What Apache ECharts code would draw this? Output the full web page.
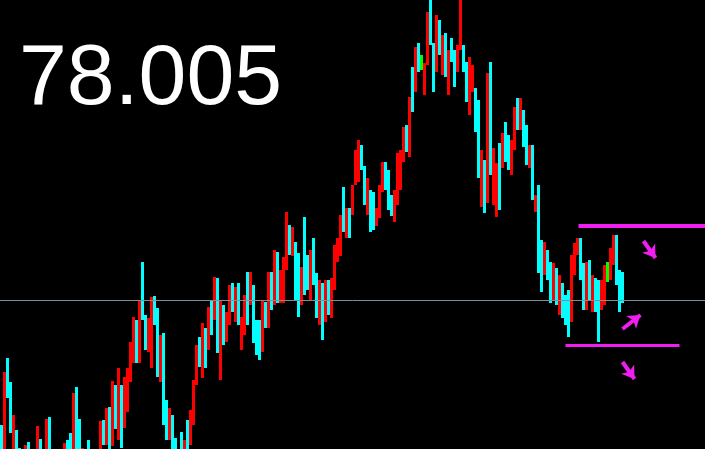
<!DOCTYPE html>
<html>
<head>
<meta charset="utf-8">
<script src="https://cdn.jsdelivr.net/npm/echarts@6/dist/echarts.min.js"></script>
<style>
html,body{margin:0;padding:0;background:#000;}
#chart{width:705px;height:449px;}
</style>
</head>
<body>
<div id="chart"></div>
<script>
const slotCount = 235;
const categories = Array.from({length: slotCount}, (_, i) => String(i));

const opens = [
76.72,76.55,77.38,77.12,76.60,76.68,76.48,76.30,76.38,76.48,
76.35,76.22,76.32,76.45,76.32,76.40,76.68,76.48,76.32,76.40,
76.28,76.38,76.50,76.55,76.42,77.00,76.60,76.38,76.45,76.50,
76.35,76.42,76.30,76.45,76.75,76.60,76.90,76.70,77.12,76.75,
77.05,76.80,76.95,77.22,77.48,77.77,77.50,78.13,77.82,77.55,
77.65,78.02,77.85,77.40,77.60,76.95,76.65,76.82,76.60,76.35,
76.50,76.38,76.60,76.60,76.82,77.20,77.60,77.30,77.70,77.55,
77.95,77.85,78.18,77.40,77.90,77.65,77.82,78.10,77.90,78.12,
77.62,77.70,78.10,78.00,78.10,77.70,77.60,77.55,77.95,77.75,
78.20,78.00,78.45,78.05,78.10,78.35,78.72,78.50,78.55,78.25,
78.00,78.35,78.42,78.05,78.60,78.25,77.80,78.10,77.85,78.15,
77.90,78.18,78.42,78.52,79.00,78.70,78.88,78.92,79.18,79.22,
79.53,79.32,78.88,79.05,78.95,78.78,78.85,79.12,79.35,79.20,
79.02,78.80,79.02,79.15,79.42,79.72,79.45,80.10,80.10,80.55,
80.40,80.08,80.40,80.90,80.55,80.32,80.78,80.45,80.65,80.08,
80.60,80.45,80.32,80.53,80.52,80.33,79.88,80.12,80.08,79.97,
79.00,79.32,79.00,80.20,78.98,78.90,79.40,79.37,79.73,79.60,
79.38,79.53,79.93,79.75,79.83,79.72,79.37,79.50,78.92,79.12,
78.55,78.30,78.48,78.35,78.08,78.30,77.90,78.13,78.00,78.02,
77.82,78.38,78.50,78.60,78.32,78.00,78.35,78.05,78.15,78.10,
77.95,78.02,78.30,78.25,78.40,78.60,78.25,78.15
];
const closes = [
76.60,77.20,77.08,76.75,76.82,76.50,76.35,76.40,76.50,76.38,
76.25,76.35,76.45,76.35,76.45,76.70,76.48,76.35,76.42,76.30,
76.40,76.50,76.38,76.40,76.80,76.60,76.45,76.48,76.35,76.40,
76.45,76.32,76.45,76.70,76.66,76.88,76.60,77.05,76.80,77.05,
76.75,77.05,77.25,77.55,77.78,77.50,77.95,77.85,77.55,77.75,
78.00,77.82,77.55,77.62,77.20,76.68,76.90,76.60,76.40,76.45,
76.35,76.55,76.55,76.85,77.18,77.50,77.42,77.65,77.38,77.82,
77.70,78.10,77.55,77.95,77.65,77.85,78.10,77.95,78.10,77.80,
77.80,78.00,77.82,78.20,77.65,77.52,77.50,77.92,77.78,78.08,
77.95,78.45,78.10,78.20,78.40,78.70,78.52,78.70,78.18,77.88,
78.25,78.10,78.15,78.45,78.20,77.88,78.15,77.80,78.15,78.00,
78.20,78.50,78.58,78.80,78.75,78.90,78.65,79.12,79.40,79.50,
79.35,79.00,79.15,78.72,78.75,78.88,79.12,79.35,79.15,78.95,
78.87,79.05,79.40,79.45,79.70,79.52,79.90,79.93,80.38,80.32,
80.40,80.30,80.85,80.60,80.12,80.82,80.50,80.62,80.28,80.45,
80.45,80.15,80.50,80.90,80.32,80.00,80.38,80.30,79.90,79.28,
79.40,78.95,80.10,79.40,79.35,79.25,79.10,79.65,79.50,79.38,
79.55,79.88,79.75,79.95,79.55,79.37,79.50,79.03,79.03,78.45,
78.25,78.50,78.23,78.00,78.35,78.00,78.22,77.88,77.78,77.80,
78.40,78.52,78.60,78.25,78.00,78.30,78.10,78.20,77.95,77.95,
78.18,78.25,78.30,78.48,78.57,78.20,78.02,78.005
];
const lows = [
76.48,76.48,77.02,76.67,76.48,76.40,76.30,76.25,76.32,76.30,
76.20,76.15,76.28,76.30,76.25,76.35,76.40,76.30,76.25,76.22,
76.22,76.34,76.32,76.32,76.38,76.45,76.38,76.30,76.28,76.32,
76.28,76.25,76.22,76.40,76.55,76.55,76.48,76.54,76.71,76.60,
76.52,76.72,76.88,77.18,77.37,77.37,77.37,77.80,77.50,77.48,
77.32,77.75,77.23,77.18,76.75,76.60,76.60,76.51,76.30,76.28,
76.30,76.30,76.45,76.55,76.75,77.15,77.33,77.22,77.32,77.50,
77.65,77.80,77.47,77.20,77.55,77.58,77.75,77.88,77.78,77.75,
77.50,77.65,77.75,77.95,77.57,77.45,77.40,77.48,77.72,77.72,
77.90,77.95,77.97,77.97,77.97,78.30,78.45,78.44,78.00,77.83,
77.95,78.05,78.10,78.00,78.15,77.82,77.75,77.60,77.78,77.85,
77.82,78.10,78.38,78.44,78.68,78.62,78.62,78.85,79.15,79.18,
79.30,78.95,78.85,78.68,78.70,78.74,78.82,79.08,79.10,78.90,
78.84,78.78,78.95,79.10,79.38,79.48,79.43,79.88,80.08,80.28,
80.30,80.05,80.35,80.55,80.08,80.28,80.45,80.25,80.23,80.05,
80.38,80.13,80.28,80.50,80.28,79.98,79.85,80.08,79.68,79.22,
78.93,78.87,78.97,79.25,78.95,78.83,78.90,79.32,79.38,79.30,
79.25,79.50,79.70,79.70,79.53,79.35,79.32,79.00,78.88,78.27,
78.08,78.25,78.20,77.97,78.00,77.95,77.85,77.82,77.75,77.63,
77.78,78.25,78.45,78.20,77.90,77.90,78.00,77.88,77.88,77.58,
77.90,77.95,78.18,78.20,78.35,78.15,77.88,77.97
];
const highs = [
76.75,77.28,77.42,77.18,76.85,76.70,76.52,76.45,76.55,76.58,
76.42,76.40,76.74,76.61,76.50,76.81,76.83,76.50,76.48,76.45,
76.48,76.57,76.60,76.67,77.07,77.13,76.81,76.52,76.50,76.60,
76.50,76.48,76.48,76.79,76.80,76.92,76.93,77.19,77.15,77.32,
77.15,77.23,77.32,77.58,77.83,77.80,78.00,78.38,77.85,77.82,
78.03,78.04,77.92,77.65,77.67,77.00,76.92,76.85,76.62,76.50,
76.68,76.60,76.80,76.90,77.20,77.55,77.63,77.77,77.72,77.93,
78.00,78.23,78.22,78.00,77.95,77.88,78.15,78.17,78.13,78.17,
77.83,78.05,78.28,78.28,78.15,77.80,77.80,78.00,77.98,78.28,
78.28,78.50,78.48,78.30,78.43,78.88,78.75,78.73,78.58,78.47,
78.33,78.83,78.45,78.50,78.62,78.27,78.20,78.17,78.20,78.20,
78.22,78.55,78.62,78.85,79.13,78.92,78.92,79.15,79.50,79.60,
79.55,79.34,79.22,79.10,79.08,78.92,79.15,79.38,79.38,79.30,
79.05,79.10,79.47,79.50,79.73,79.75,80.03,80.33,80.53,80.57,
80.45,80.37,80.88,81.05,80.57,80.85,80.80,80.65,80.67,80.50,
80.62,80.50,80.55,81.05,80.55,80.38,80.43,80.35,80.12,80.00,
79.50,79.40,80.27,80.38,79.52,79.37,79.57,79.67,79.78,79.65,
79.60,79.93,80.02,80.02,79.90,79.75,79.55,79.55,79.05,79.15,
78.60,78.58,78.50,78.38,78.37,78.32,78.25,78.17,78.05,78.10,
78.45,78.57,78.62,78.62,78.37,78.38,78.40,78.25,78.22,78.20,
78.20,78.35,78.38,78.52,78.65,78.65,78.30,78.28
];

const lastPrice = closes[closes.length - 1];
const resistance = { from: 193, to: 234, price: 78.74 };
const support = { from: 188, to: 226, price: 77.55 };
const arrowStarts = [[214, 78.59], [207, 77.71], [207, 77.38]];
const arrowEnds   = [[218, 78.42], [213, 77.85], [211, 77.21]];

const candleData = opens.map((o, i) => [o, closes[i], lows[i], highs[i]]);

const MAGENTA = '#f01ef0';
const markData = [
  { yAxis: lastPrice, symbol: 'none', lineStyle: { color: '#7f8d9c', width: 1, type: 'solid' } },
  [
    { coord: [resistance.from, resistance.price], symbol: 'none' },
    { coord: [resistance.to, resistance.price], symbol: 'none', lineStyle: { color: MAGENTA, width: 4, type: 'solid', cap: 'square' } }
  ],
  [
    { coord: [support.from, support.price], symbol: 'none' },
    { coord: [support.to, support.price], symbol: 'none', lineStyle: { color: MAGENTA, width: 3, type: 'solid' } }
  ]
];
arrowStarts.forEach((s, k) => {
  markData.push([
    { coord: s, symbol: 'none' },
    { coord: arrowEnds[k], symbol: 'arrow', symbolSize: [12, 12], lineStyle: { color: MAGENTA, width: 4, type: 'solid' }, itemStyle: { color: MAGENTA } }
  ]);
});

const chart = echarts.init(document.getElementById('chart'), null, { renderer: 'canvas' });
chart.setOption({
  backgroundColor: '#000000',
  animation: false,
  grid: { left: 0, right: 0, top: 0, bottom: 0, containLabel: false },
  xAxis: {
    type: 'category', data: categories, show: false, boundaryGap: true
  },
  yAxis: {
    type: 'value', min: 76.51, max: 81.00, show: false, scale: true,
    splitLine: { show: false }
  },
  series: [{
    type: 'candlestick',
    data: candleData,
    barWidth: 0.01,
    barMinWidth: 0,
    clip: true,
    itemStyle: {
      color: '#ff0000', color0: '#00ffff',
      borderColor: '#ff0000', borderColor0: '#00ffff', borderColorDoji: '#00ff00',
      borderWidth: 3
    },
    markLine: {
      silent: true,
      animation: false,
      symbol: ['none', 'none'],
      label: { show: false },
      emphasis: { disabled: true },
      data: markData
    }
  }],
  graphic: [{
    type: 'text',
    left: 19,
    top: 37,
    style: {
      text: lastPrice.toFixed(3),
      fill: '#ffffff',
      font: '86px "Liberation Sans", Arial, sans-serif'
    }
  }]
});
</script>
</body>
</html>
